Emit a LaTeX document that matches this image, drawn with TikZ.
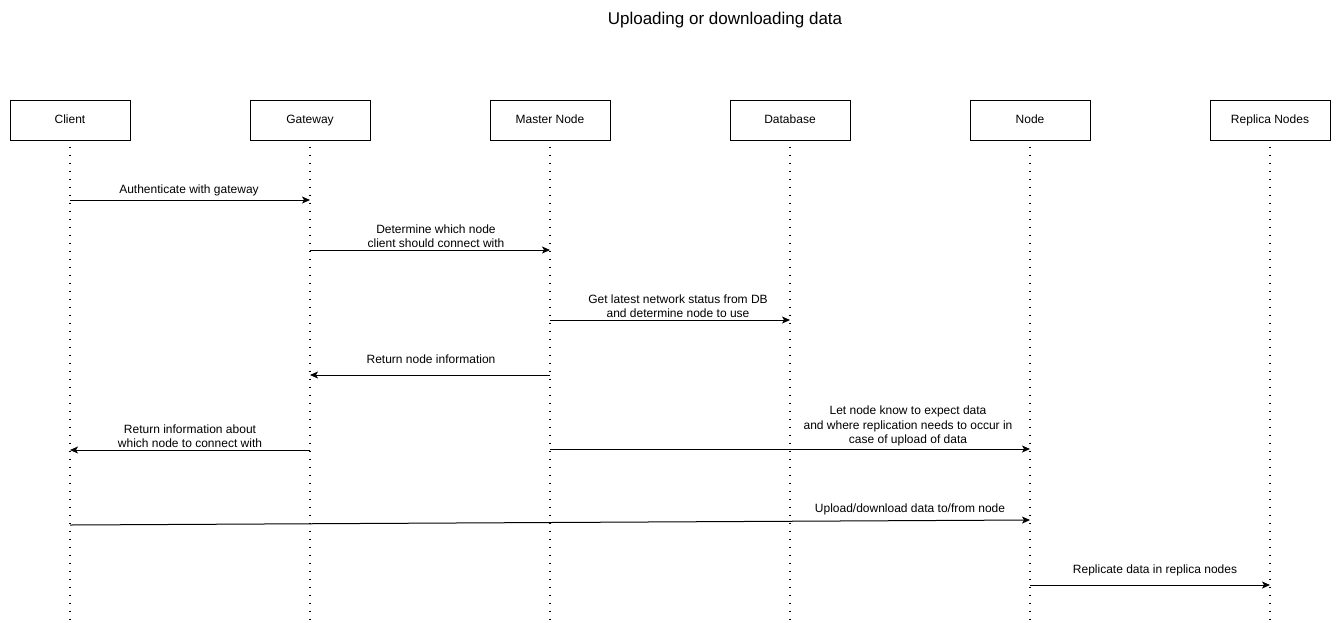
\documentclass[tikz,border=0pt]{standalone}
\usepackage{fontspec}
\setmainfont{Liberation Sans}
\usetikzlibrary{arrows.meta}
\begin{document}
\begin{tikzpicture}[x=1pt,y=-1pt,
  actor/.style={draw=black,line width=1pt,minimum width=120pt,minimum height=40pt,inner sep=0pt,text height=8.6pt,text depth=2.6pt,font=\fontsize{12}{14}\selectfont},
  lifeline/.style={line width=1.6pt,dash pattern=on 1.6pt off 6.4pt},
  msg/.style={line width=1pt,-{Stealth[length=8pt,width=7pt,inset=2pt]}},
  lbl/.style={font=\fontsize{12}{14.5}\selectfont,align=center,inner sep=0pt}]
\useasboundingbox (0,0) rectangle (1341,633);
\node[font=\fontsize{17}{20}\selectfont] (title) at (725,20) {Uploading or downloading data};
\foreach \n/\x/\t in {c/70/Client,g/310/Gateway,m/550/Master Node,d/790/Database,n/1030/Node,r/1270/Replica Nodes}{
  \node[actor] (\n) at (\x,120) {\t};
  \coordinate (\n end) at (\x,622);
  \draw[lifeline] ([yshift=-6pt]\n.south) -- (\n end);
}
% message endpoints
\coordinate (c1) at (70,200);  \coordinate (g1) at (310,200);
\coordinate (g2) at (310,250); \coordinate (m2) at (550,250);
\coordinate (m3) at (550,320); \coordinate (d3) at (790,320);
\coordinate (m4) at (550,375); \coordinate (g4) at (310,375);
\coordinate (g5) at (310,450); \coordinate (c5) at (70,450);
\coordinate (m6) at (550,449); \coordinate (n6) at (1030,449);
\coordinate (c7) at (70,525);  \coordinate (n7) at (1030,520);
\coordinate (n8) at (1030,585); \coordinate (r8) at (1270,585);
\draw[msg] (c1) -- (g1);
\draw[msg] (g2) -- (m2);
\draw[msg] (m3) -- (d3);
\draw[msg] (m4) -- (g4);
\draw[msg] (g5) -- (c5);
\draw[msg] (m6) -- (n6);
\draw[msg] (c7) -- (n7);
\draw[msg] (n8) -- (r8);
\node[lbl] (l1) at (189,190) {Authenticate with gateway};
\node[lbl] (l2) at (436,236) {Determine which node\\client should connect with};
\node[lbl] (l3) at (678,306) {Get latest network status from DB\\and determine node to use};
\node[lbl] (l4) at (431,359) {Return node information};
\node[lbl] (l5) at (190,436) {Return information about\\which node to connect with};
\node[lbl] (l6) at (908,426) {Let node know to expect data\\and where replication needs to occur in\\case of upload of data};
\node[lbl] (l7) at (910,509) {Upload/download data to/from node};
\node[lbl] (l8) at (1155,570) {Replicate data in replica nodes};
\end{tikzpicture}
\end{document}
